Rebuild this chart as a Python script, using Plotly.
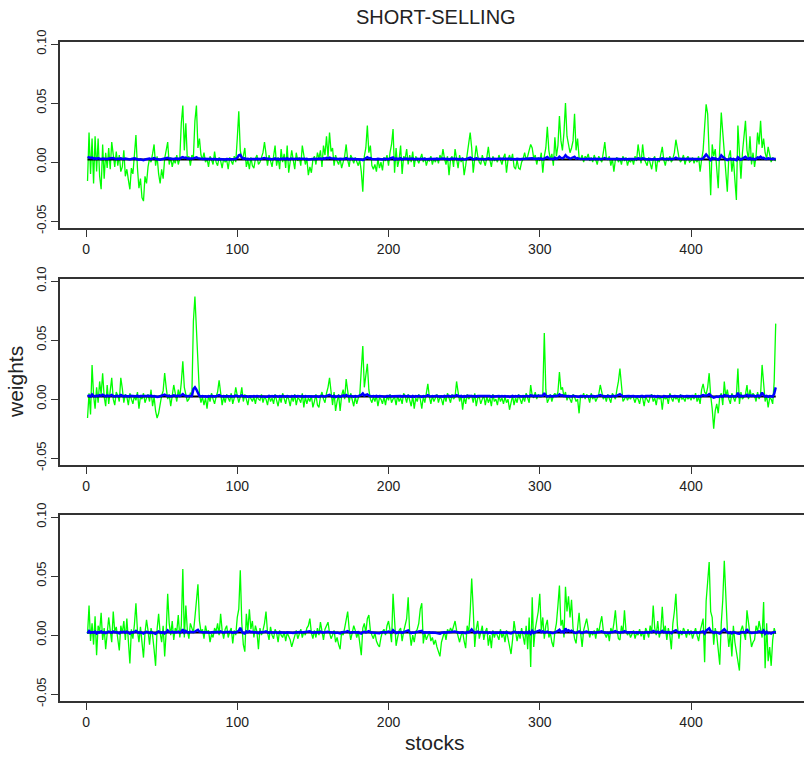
import plotly.graph_objects as go

# ---------------------------------------------------------------
# Portfolio weights per stock (three estimation settings), in
# thousandths (x 0.001).  Green = individual estimate, blue = shrunk
# estimate, black = equal-weight reference.
# ---------------------------------------------------------------
TITLE = "SHORT-SELLING"
X_LABEL = "stocks"
Y_LABEL = "weights"
X_TICKS = [0, 100, 200, 300, 400]
Y_TICKS = [-0.05, 0.0, 0.05, 0.10]
Y_TICK_TEXT = ["-0.05", "0.00", "0.05", "0.10"]
EQUAL_WEIGHT = 0.0022

green_1 = [
    -16, 25, -10, 20, -18, 22, -8, 20, -12, -23,
    15, -14, 8, -5, 12, -6, 17, 4, -4, 9,
    -3, 6, -8, -4, 10, -12, -6, -15, -23, -5,
    -10, 6, 23, -5, -22, -14, -30, -33, -12, -18,
    -4, 3, 0, 7, 15, -3, 5, -10, -18, -6,
    -14, 3, 9, 17, -2, 4, -4, 2, -1, 6,
    -2, 3, 33, 48, 10, 33, 2, 5, -3, 6,
    4, 35, 48, 12, 20, 6, 2, 8, 0, 3,
    -4, 5, 2, -2, 9, 0, -3, 4, 1, -5,
    3, 0, 2, -6, 4, 1, -2, 5, 0, 20,
    43, 10, 3, 5, 12, -4, 2, -6, 4, -3,
    -5, 3, 6, -2, 0, 4, 8, 17, 5, -3,
    6, 2, -4, 5, 14, -3, 4, -6, 11, 0,
    7, -5, 14, -9, 3, 10, 2, -6, 8, 1,
    4, -3, 14, 5, -2, 3, -11, -4, -9, 2,
    5, -2, 8, 3, 10, -4, 14, 6, 22, 4,
    25, 9, 12, -3, 6, 1, -2, 3, -5, 0,
    5, 15, 2, -4, 6, 3, -1, 4, 0, -3,
    2, -8, -25, 5, 12, 31, 8, 14, -3, -6,
    -2, -8, 3, -5, 0, -7, 4, 1, 6, -3,
    8, 15, 28, -9, 12, -4, 2, 14, -10, 5,
    3, 11, -2, 6, 0, 9, -4, 5, 2, -1,
    3, 7, 0, 4, -3, 2, 1, 5, -2, 3,
    0, 4, -1, 6, 2, 11, 3, -2, 5, -11,
    2, 5, -4, 11, 3, -5, 6, 0, 4, -11,
    -3, 8, 14, 25, 12, -9, 3, 14, 5, 0,
    -2, 6, 1, -3, 4, 13, 2, -4, 5, 1,
    3, 0, 6, 2, -2, 4, 7, -9, 2, 6,
    1, 7, -4, -6, 2, -5, -6, 0, 3, 8,
    2, 5, 10, 15, 12, 3, 6, -2, 4, 1,
    8, -9, 5, 12, 30, 10, 2, 7, -3, 21,
    5, 14, 39, 18, 10, 25, 50, 22, 15, 8,
    12, 18, 41, 10, 20, 4, 2, 6, 0, 5,
    3, 7, 1, 4, 0, 6, 2, -2, 5, 3,
    0, 8, 17, 4, 2, 5, -3, 3, -8, 2,
    4, 0, 3, -2, 5, 1, 4, -3, 2, 0,
    3, -2, 5, 1, 15, 6, -1, 15, 3, 0,
    -3, 4, 0, -6, 2, 5, -8, 3, 0, 6,
    13, 2, -3, 4, 1, 5, 0, 3, 8, 19,
    10, 4, 0, 2, 6, -2, 3, 5, 0, 1,
    4, -1, 3, 0, 5, -8, 2, 10, 30, 49,
    41, 10, -28, 15, 5, 11, -5, -22, 12, 42,
    25, 8, -3, -25, 5, 10, -8, 3, -15, -32,
    31, 5, -14, 8, 20, 35, 10, 2, 22, -2,
    8, -4, 5, 25, 15, 35, 12, 20, 8, 3,
    13, 6, 0, 4, 2, 1,
]

blue_1 = [
    4.5, 4.0, 3.5, 3.8, 3.0, 3.2, 2.8, 3.4, 3.0, 2.6,
    3.1, 2.9, 3.3, 2.7, 3.0, 3.2, 2.8, 3.5, 3.0, 2.6,
    3.0, 2.7, 3.2, 2.9, 2.5, 3.1, 2.8, 2.4, 2.2, 2.7,
    3.0, 3.3, 2.9, 2.3, 2.0, 2.4, 1.8, 1.6, 2.2, 2.5,
    2.8, 3.0, 2.6, 3.1, 3.4, 2.9, 2.6, 2.2, 2.0, 2.5,
    2.8, 3.0, 3.3, 3.6, 3.0, 2.7, 2.9, 2.6, 3.0, 2.8,
    2.6, 2.9, 3.8, 4.2, 3.5, 3.9, 3.0, 2.8, 2.6, 3.0,
    3.2, 3.8, 4.0, 3.4, 3.1, 2.8, 2.6, 2.9, 2.7, 2.5,
    2.7, 2.9, 2.6, 2.4, 2.8, 2.5, 2.3, 2.6, 2.4, 2.2,
    2.5, 2.3, 2.6, 2.2, 2.4, 2.5, 2.3, 2.6, 2.8, 3.6,
    5.8, 6.2, 3.8, 3.0, 3.3, 2.6, 2.8, 2.4, 2.7, 2.5,
    2.3, 2.6, 2.9, 2.5, 2.7, 2.9, 3.1, 3.5, 3.0, 2.7,
    2.9, 2.7, 2.4, 2.8, 3.2, 2.6, 2.9, 2.4, 3.0, 2.7,
    3.1, 2.6, 3.3, 2.4, 2.8, 3.0, 2.7, 2.5, 2.9, 2.8,
    2.9, 2.6, 3.2, 2.9, 2.6, 2.8, 2.2, 2.5, 2.3, 2.7,
    2.9, 2.6, 2.9, 2.8, 3.1, 2.6, 3.2, 3.0, 3.6, 3.1,
    3.8, 3.3, 3.1, 2.7, 2.9, 2.8, 2.6, 2.8, 2.5, 2.7,
    2.9, 3.4, 2.8, 2.5, 2.9, 2.8, 2.6, 2.8, 2.7, 2.5,
    2.7, 2.3, 1.8, 2.8, 3.2, 4.2, 3.3, 3.4, 2.6, 2.4,
    2.6, 2.4, 2.8, 2.5, 2.7, 2.3, 2.8, 2.7, 2.9, 2.6,
    3.1, 3.4, 4.0, 2.3, 3.2, 2.5, 2.8, 3.3, 2.2, 2.9,
    2.8, 3.1, 2.6, 2.9, 2.7, 3.0, 2.5, 2.9, 2.8, 2.6,
    2.8, 3.0, 2.7, 2.9, 2.5, 2.8, 2.7, 2.9, 2.6, 2.8,
    2.7, 2.9, 2.6, 3.0, 2.8, 3.1, 2.8, 2.6, 2.9, 2.2,
    2.8, 2.9, 2.5, 3.1, 2.8, 2.4, 2.8, 2.7, 2.8, 2.2,
    2.5, 2.9, 3.3, 3.9, 3.2, 2.3, 2.8, 3.2, 2.9, 2.7,
    2.6, 2.9, 2.7, 2.5, 2.8, 3.2, 2.8, 2.5, 2.9, 2.7,
    2.8, 2.6, 2.9, 2.8, 2.6, 2.8, 3.0, 2.3, 2.8, 2.9,
    2.7, 3.0, 2.5, 2.4, 2.8, 2.5, 2.4, 2.7, 2.8, 3.0,
    2.8, 2.9, 3.1, 3.4, 3.3, 2.9, 3.0, 2.6, 2.9, 2.8,
    3.1, 2.3, 2.9, 3.3, 4.3, 3.2, 2.8, 3.0, 2.6, 3.8,
    2.9, 3.4, 4.6, 3.6, 3.2, 4.0, 5.8, 4.4, 3.8, 3.2,
    3.4, 3.8, 4.6, 3.0, 3.5, 2.8, 2.7, 2.9, 2.6, 2.8,
    2.7, 2.9, 2.6, 2.8, 2.6, 2.9, 2.7, 2.5, 2.8, 2.7,
    2.6, 2.9, 3.4, 2.8, 2.7, 2.8, 2.4, 2.7, 2.3, 2.6,
    2.8, 2.6, 2.7, 2.5, 2.8, 2.6, 2.8, 2.5, 2.7, 2.6,
    2.7, 2.5, 2.8, 2.6, 3.3, 2.9, 2.6, 3.2, 2.7, 2.6,
    2.4, 2.7, 2.6, 2.3, 2.7, 2.8, 2.2, 2.7, 2.6, 2.9,
    3.3, 2.7, 2.5, 2.8, 2.6, 2.8, 2.6, 2.7, 3.0, 3.8,
    3.1, 2.8, 2.6, 2.7, 2.9, 2.5, 2.7, 2.8, 2.6, 2.7,
    2.8, 2.6, 2.7, 2.6, 2.8, 2.3, 2.7, 3.2, 4.5, 6.5,
    5.0, 3.2, 1.8, 3.6, 2.9, 3.3, 2.4, 2.0, 3.3, 5.8,
    4.5, 3.1, 2.5, 1.8, 2.9, 3.2, 2.3, 2.7, 2.1, 1.7,
    4.2, 2.9, 2.1, 3.0, 3.6, 4.5, 3.2, 2.7, 3.7, 2.5,
    3.0, 2.4, 2.8, 4.0, 3.5, 4.6, 3.3, 3.7, 2.9, 2.7,
    3.3, 2.9, 2.6, 2.8, 2.7, 2.6,
]

green_2 = [
    -16, 5, -13, 29, 3, -8, 10, -3, 15, 4,
    22, 2, -6, 12, -4, 8, 18, 0, -5, 6,
    3, -2, 18, 9, -3, 4, 2, -5, 5, 0,
    -4, 3, -1, 6, -8, 2, 0, 5, -3, 1,
    4, -2, 8, -6, 2, -10, -16, -12, -4, 3,
    7, 22, 10, 0, 4, -6, 3, 12, 5, -2,
    8, 2, 14, 32, 10, 3, -2, 0, 5, 4,
    66, 87, 60, 35, 4, -3, 2, -5, 1, -8,
    3, -2, 5, 0, -4, 2, 6, 16, 3, -5,
    2, -3, 4, 0, -2, 5, -4, 1, 10, 3,
    -3, 2, 10, -2, 4, 0, -5, 3, 1, -2,
    2, -4, 3, 0, -1, 4, -3, 2, 0, -5,
    3, -2, 1, -4, 4, 0, -6, 2, -3, 5,
    -1, -4, 3, 0, -6, 2, -2, 4, -5, 1,
    0, -3, 5, -7, 2, -4, 1, -2, 3, -7,
    -2, 4, -5, -7, 2, 6, 0, -3, 5, 10,
    18, 3, -5, 6, -10, -2, 4, -10, 3, 8,
    0, 17, 4, -3, 5, 0, -6, 2, -4, 1,
    4, 25, 45, 10, 20, 30, 8, 0, -3, 2,
    -2, 3, -6, 1, 0, -4, 2, -5, 3, -1,
    4, -3, 0, 2, -5, 3, -2, 1, -4, 5,
    2, -3, 4, 0, -6, 3, -8, 1, -2, 4,
    0, -8, 2, -3, 5, 13, 2, -4, 3, -2,
    1, 4, -3, 2, 0, -5, 3, -2, 5, 1,
    -3, 4, 0, 2, 15, 6, -2, 3, -9, 2,
    -4, 4, 0, 2, 3, -3, 5, -6, 1, 2,
    -4, 0, 3, -5, 2, -3, 1, -6, 4, -2,
    0, -5, 3, -2, 1, -4, 2, -3, 0, -9,
    -2, 3, -5, 1, -3, 4, 0, -4, 2, -2,
    5, 0, -3, 12, 3, 1, 6, 0, 4, 2,
    2, 4, 56, 8, -3, 0, 4, -2, 3, 5,
    2, 6, 23, 8, 10, 2, 6, -1, 3, 0,
    -3, 4, 2, -2, 0, -12, 3, 1, 5, 0,
    4, 2, -3, 5, 0, 3, -2, 1, 4, 12,
    6, 0, 3, -2, 4, 1, -3, 5, 2, 0,
    8, 15, 26, 10, -2, 0, 3, -1, 2, 0,
    3, 1, -3, 2, 0, -4, 3, 1, -6, 2,
    0, -3, 2, 4, -2, 1, -5, 3, 0, 2,
    -9, 3, 0, 2, -4, 5, 1, -2, 3, 0,
    2, -3, 4, 0, 1, -2, 3, 0, 2, -1,
    3, 0, 5, -2, 2, -4, 8, 13, 6, 4,
    10, 22, 3, -8, -25, -10, -4, -12, 2, 5,
    -5, 15, 2, 8, 0, -4, 5, 1, -2, 3,
    26, -4, 6, 0, 2, 4, 12, 0, 8, 2,
    5, 3, -2, 6, 0, 4, 29, 10, -2, 3,
    -7, 1, 0, -4, 15, 64,
]

blue_2 = [
    2.5, 3.0, 2.2, 4.0, 2.8, 2.4, 3.0, 2.6, 3.4, 2.8,
    3.8, 2.7, 2.4, 3.2, 2.5, 3.0, 3.6, 2.6, 2.3, 2.9,
    2.7, 2.5, 3.5, 3.0, 2.4, 2.8, 2.6, 2.3, 2.8, 2.6,
    2.4, 2.7, 2.5, 2.9, 2.2, 2.6, 2.5, 2.8, 2.4, 2.6,
    2.8, 2.5, 3.0, 2.3, 2.6, 2.1, 1.8, 2.0, 2.4, 2.7,
    2.9, 3.8, 3.1, 2.6, 2.8, 2.3, 2.7, 3.2, 2.9, 2.5,
    3.0, 2.6, 3.3, 4.2, 3.1, 2.7, 2.4, 2.6, 2.8, 2.7,
    8.5, 10.0, 8.0, 4.8, 2.7, 2.3, 2.6, 2.2, 2.5, 2.0,
    2.6, 2.3, 2.8, 2.5, 2.2, 2.6, 2.9, 3.4, 2.7, 2.2,
    2.6, 2.3, 2.7, 2.5, 2.3, 2.8, 2.2, 2.5, 3.1, 2.7,
    2.2, 2.6, 3.1, 2.4, 2.7, 2.5, 2.1, 2.6, 2.5, 2.3,
    2.6, 2.2, 2.7, 2.5, 2.4, 2.7, 2.2, 2.6, 2.5, 2.1,
    2.7, 2.3, 2.6, 2.1, 2.8, 2.5, 2.0, 2.6, 2.2, 2.8,
    2.4, 2.1, 2.7, 2.5, 2.0, 2.6, 2.3, 2.8, 2.1, 2.6,
    2.5, 2.2, 2.8, 1.9, 2.6, 2.2, 2.5, 2.3, 2.7, 1.9,
    2.3, 2.7, 2.1, 1.9, 2.6, 2.9, 2.5, 2.2, 2.8, 3.2,
    3.6, 2.7, 2.2, 2.9, 1.8, 2.4, 2.8, 1.9, 2.7, 3.1,
    2.5, 3.5, 2.8, 2.3, 2.9, 2.5, 2.1, 2.6, 2.2, 2.6,
    2.8, 3.6, 4.8, 3.0, 3.6, 4.0, 2.9, 2.5, 2.3, 2.6,
    2.3, 2.7, 2.1, 2.6, 2.5, 2.2, 2.6, 2.1, 2.7, 2.4,
    2.8, 2.2, 2.5, 2.6, 2.1, 2.7, 2.3, 2.6, 2.2, 2.8,
    2.6, 2.3, 2.8, 2.5, 2.0, 2.7, 1.9, 2.6, 2.3, 2.8,
    2.5, 1.9, 2.6, 2.3, 2.8, 3.4, 2.6, 2.2, 2.7, 2.3,
    2.6, 2.8, 2.2, 2.6, 2.5, 2.1, 2.7, 2.3, 2.8, 2.6,
    2.2, 2.8, 2.5, 2.6, 3.4, 2.9, 2.3, 2.7, 1.9, 2.6,
    2.2, 2.8, 2.5, 2.6, 2.7, 2.3, 2.8, 2.1, 2.6, 2.6,
    2.2, 2.5, 2.7, 2.1, 2.6, 2.3, 2.6, 2.0, 2.8, 2.3,
    2.5, 2.1, 2.7, 2.3, 2.6, 2.2, 2.6, 2.3, 2.5, 1.9,
    2.3, 2.7, 2.1, 2.6, 2.3, 2.8, 2.5, 2.2, 2.6, 2.3,
    2.8, 2.5, 2.3, 3.3, 2.7, 2.6, 3.0, 2.5, 2.8, 2.7,
    2.6, 2.8, 5.2, 3.0, 2.3, 2.5, 2.8, 2.3, 2.7, 2.9,
    2.6, 2.9, 4.0, 3.0, 3.2, 2.6, 2.9, 2.4, 2.7, 2.5,
    2.3, 2.8, 2.6, 2.3, 2.5, 1.9, 2.7, 2.6, 2.9, 2.5,
    2.8, 2.6, 2.3, 2.9, 2.5, 2.7, 2.3, 2.6, 2.8, 3.4,
    2.9, 2.5, 2.7, 2.3, 2.8, 2.6, 2.2, 2.9, 2.6, 2.5,
    3.0, 3.4, 4.2, 3.2, 2.3, 2.5, 2.7, 2.4, 2.6, 2.5,
    2.7, 2.6, 2.2, 2.6, 2.5, 2.1, 2.7, 2.6, 2.0, 2.6,
    2.5, 2.2, 2.6, 2.8, 2.3, 2.6, 2.0, 2.7, 2.5, 2.6,
    1.8, 2.7, 2.5, 2.6, 2.1, 2.9, 2.6, 2.3, 2.7, 2.5,
    2.6, 2.2, 2.8, 2.5, 2.6, 2.3, 2.7, 2.5, 2.6, 2.4,
    2.7, 2.5, 2.9, 2.3, 2.6, 2.2, 3.0, 3.4, 2.9, 2.8,
    3.3, 4.2, 2.7, 2.0, 1.2, 1.9, 2.2, 1.8, 2.6, 2.8,
    2.1, 3.4, 2.7, 3.1, 2.5, 2.2, 2.9, 2.6, 2.3, 2.7,
    5.5, 2.2, 3.0, 2.5, 2.6, 2.8, 3.6, 2.5, 3.2, 2.7,
    3.0, 2.8, 2.3, 3.1, 2.5, 3.0, 5.5, 3.4, 2.3, 2.8,
    2.0, 2.6, 2.5, 2.2, 4.5, 10.0,
]

green_3 = [
    1, 25, -5, 10, -8, 16, -17, 8, 3, 19,
    -4, 6, -12, 2, 15, 4, -6, 20, 3, 7,
    -5, -13, 8, 2, 12, -4, 14, -8, -24, 5,
    -3, 9, 27, 4, -6, 7, -10, -19, 2, 13,
    4, -8, 6, 0, -12, -26, 5, 18, 2, -6,
    8, -18, 3, 35, 10, 0, 12, -4, 6, 3,
    17, -2, 8, 56, -2, 25, 4, -3, 10, 6,
    2, 15, 30, 43, 12, 3, 5, -3, 8, 2,
    4, -6, 1, -2, 6, 3, 10, 0, 18, 4,
    -3, 5, 8, -2, 3, 6, -7, 4, 0, 15,
    22, 55, 10, -8, -14, 18, 3, 22, 5, 12,
    -2, 8, 3, -12, 6, 0, 4, 10, 20, 2,
    -4, 7, 0, -3, 5, 2, -6, 4, 0, -2,
    3, -5, 2, -1, -4, -10, -6, 0, 4, -3,
    2, 5, -2, 3, 0, 6, 8, 14, 2, -3,
    4, -2, 6, 0, 11, 3, -4, 5, 8, 11,
    2, -3, 0, 4, -6, -2, -8, -12, 3, 0,
    6, 12, 20, 5, -4, 2, 8, 4, -2, 3,
    -8, -17, 6, 10, 2, 14, 17, 4, 0, -3,
    2, -5, -8, -10, -2, 3, 5, 0, 8, 12,
    4, -6, 35, 10, -9, -2, 4, 6, -5, 3,
    8, 14, 32, 2, -9, 0, -6, 3, 5, 10,
    22, 27, -7, 2, -4, 0, 3, -5, -2, -8,
    -4, -10, -14, -18, -6, 0, 3, -4, 5, 2,
    6, 3, 8, 12, 4, -2, -6, 0, 3, -5,
    -11, 8, 2, 20, 48, 22, -10, 5, 12, -3,
    2, 8, -4, 3, 6, -9, 0, -11, 4, -2,
    3, 0, -4, 5, -2, 2, -6, 4, -3, -8,
    -16, -4, 12, 3, -5, 2, -3, 6, 0, -8,
    8, -12, 15, -27, 32, -10, 5, 12, 20, 35,
    4, 15, -3, 8, 13, -2, 2, -6, -10, 3,
    10, 25, 42, 8, 13, -2, 41, 20, 33, 15,
    30, 6, -3, -7, 5, 19, 2, -10, 4, 8,
    14, 6, -2, 3, 0, 4, -3, 6, 2, 10,
    16, 4, 0, -2, 3, -5, 6, 2, 10, 21,
    5, -3, -4, 8, 2, 21, 4, 0, 3, -2,
    1, 4, -3, 2, 0, 5, -1, 3, -4, 6,
    3, -2, 8, 2, 25, 6, 0, 12, -2, 4,
    24, 2, 8, -4, 6, 0, -12, 10, 20, 35,
    8, -3, 4, 0, 6, 3, -2, 5, 0, 4,
    -3, 2, 6, 0, -5, 3, 8, 14, -23, 29,
    45, 62, 20, 15, -8, 6, 0, -12, -25, 10,
    30, 63, 29, 5, -10, 3, -18, 8, -6, -15,
    -22, -30, 4, 8, 2, -4, 21, 12, 0, -10,
    -6, -4, 8, 3, 12, 5, -2, 28, -28, 10,
    -22, -10, -26, -4, 6, 1,
]

blue_3 = [
    1.5, 3.5, 2.0, 2.6, 2.2, 3.0, 1.4, 2.5, 2.3, 3.2,
    2.0, 2.6, 1.7, 2.4, 3.0, 2.5, 2.0, 3.1, 2.4, 2.6,
    2.0, 1.6, 2.7, 2.4, 2.9, 2.1, 3.0, 1.8, 1.2, 2.5,
    2.2, 2.7, 3.6, 2.5, 2.0, 2.6, 1.7, 1.4, 2.4, 2.9,
    2.5, 1.8, 2.6, 2.3, 1.7, 1.1, 2.5, 3.1, 2.4, 2.0,
    2.7, 1.5, 2.4, 4.0, 2.8, 2.3, 2.9, 2.1, 2.6, 2.4,
    3.0, 2.1, 2.7, 5.0, 2.2, 3.6, 2.5, 2.1, 2.8, 2.6,
    2.4, 3.0, 3.8, 4.5, 2.9, 2.5, 2.6, 2.2, 2.7, 2.4,
    2.5, 2.1, 2.4, 2.2, 2.6, 2.5, 2.8, 2.3, 3.1, 2.5,
    2.1, 2.6, 2.7, 2.2, 2.5, 2.6, 2.0, 2.5, 2.3, 3.0,
    3.6, 6.2, 3.0, 1.8, 1.4, 3.2, 2.5, 3.3, 2.6, 2.9,
    2.2, 2.7, 2.4, 1.8, 2.6, 2.3, 2.5, 2.8, 3.2, 2.4,
    2.0, 2.7, 2.3, 2.1, 2.6, 2.4, 1.9, 2.5, 2.3, 2.1,
    2.5, 2.0, 2.4, 2.2, 1.9, 1.5, 1.8, 2.3, 2.5, 2.1,
    2.4, 2.6, 2.2, 2.5, 2.3, 2.6, 2.8, 3.2, 2.4, 2.1,
    2.5, 2.2, 2.6, 2.3, 2.9, 2.5, 2.0, 2.5, 2.7, 2.9,
    2.4, 2.1, 2.3, 2.5, 1.9, 2.2, 1.8, 1.5, 2.5, 2.3,
    2.6, 3.0, 3.4, 2.6, 2.0, 2.4, 2.7, 2.5, 2.2, 2.5,
    1.8, 1.4, 2.6, 2.9, 2.4, 3.0, 3.3, 2.5, 2.3, 2.1,
    2.4, 2.0, 1.8, 1.7, 2.2, 2.5, 2.6, 2.3, 2.7, 3.0,
    2.5, 2.0, 4.2, 2.8, 1.8, 2.2, 2.5, 2.6, 2.0, 2.4,
    2.7, 3.0, 4.0, 2.4, 1.8, 2.3, 2.0, 2.5, 2.6, 2.8,
    3.4, 3.6, 1.9, 2.4, 2.1, 2.3, 2.5, 2.0, 2.2, 1.8,
    2.0, 1.7, 1.5, 1.3, 2.0, 2.3, 2.5, 2.1, 2.6, 2.4,
    2.7, 2.5, 2.8, 3.0, 2.6, 2.2, 2.0, 2.3, 2.5, 2.0,
    1.7, 2.7, 2.4, 3.2, 4.8, 3.3, 1.8, 2.5, 2.9, 2.1,
    2.4, 2.8, 2.0, 2.5, 2.6, 1.8, 2.3, 1.7, 2.5, 2.1,
    2.5, 2.3, 2.0, 2.6, 2.1, 2.4, 1.9, 2.5, 2.1, 1.8,
    1.5, 2.1, 3.0, 2.5, 2.0, 2.4, 2.1, 2.6, 2.3, 1.8,
    2.7, 1.7, 3.0, 1.2, 3.6, 1.8, 2.5, 3.0, 3.4, 4.0,
    2.5, 3.2, 2.1, 2.7, 3.0, 2.2, 2.4, 1.9, 1.8, 2.4,
    2.9, 3.6, 4.6, 2.7, 3.1, 2.2, 5.7, 3.4, 4.2, 3.1,
    3.8, 2.6, 2.0, 1.8, 2.5, 3.2, 2.4, 1.8, 2.5, 2.7,
    3.1, 2.6, 2.2, 2.5, 2.3, 2.5, 2.1, 2.6, 2.4, 2.9,
    3.2, 2.5, 2.3, 2.1, 2.4, 1.9, 2.6, 2.4, 2.9, 3.4,
    2.6, 2.1, 2.0, 2.7, 2.4, 3.3, 2.5, 2.3, 2.5, 2.2,
    2.4, 2.5, 2.1, 2.4, 2.3, 2.6, 2.2, 2.5, 2.1, 2.6,
    2.5, 2.2, 2.8, 2.4, 3.6, 2.6, 2.3, 3.0, 2.2, 2.5,
    3.6, 2.4, 2.8, 2.1, 2.6, 2.3, 1.7, 2.9, 3.4, 4.2,
    2.8, 2.1, 2.5, 2.3, 2.6, 2.5, 2.2, 2.6, 2.3, 2.5,
    2.1, 2.4, 2.6, 2.3, 2.0, 2.5, 2.8, 3.2, 1.4, 3.8,
    4.8, 5.7, 3.4, 3.0, 1.9, 2.6, 2.3, 1.8, 1.3, 2.8,
    3.8, 5.0, 3.6, 2.5, 1.8, 2.4, 1.5, 2.7, 2.0, 1.6,
    1.3, 1.2, 2.5, 2.7, 2.4, 2.1, 5.0, 3.0, 2.3, 1.8,
    2.0, 2.1, 2.8, 2.5, 3.2, 2.6, 2.2, 3.9, 1.2, 2.8,
    1.5, 2.0, 1.3, 2.2, 2.7, 2.4,
]

panels = [(green_1, blue_1), (green_2, blue_2), (green_3, blue_3)]

# ---------------------------------------------------------------
# Layout geometry (pixels) for the three stacked panels
# ---------------------------------------------------------------
W, H = 804, 757
LEFT = 60
panel_px = [(42, 228), (279, 465), (515, 701)]   # (top, bottom)
X_RANGE = [-17.2, 474.7]
Y_RANGE = [-0.0558, 0.1018]

FONT = "Liberation Sans, Arial, sans-serif"
INK = "#222222"
FRAME = "#333333"

fig = go.Figure()

for i, (green, blue) in enumerate(panels):
    k = "" if i == 0 else str(i + 1)
    xa, ya = "x" + k, "y" + k
    xg = list(range(1, len(green) + 1))
    xb = list(range(1, len(blue) + 1))
    fig.add_trace(go.Scatter(
        x=xg, y=[v / 1000 for v in green], mode="lines",
        line=dict(color="#00ff00", width=1.3), xaxis=xa, yaxis=ya,
        showlegend=False, hoverinfo="skip"))
    fig.add_trace(go.Scatter(
        x=[1, len(green)], y=[EQUAL_WEIGHT, EQUAL_WEIGHT], mode="lines",
        line=dict(color="#000000", width=2), xaxis=xa, yaxis=ya,
        showlegend=False, hoverinfo="skip"))
    fig.add_trace(go.Scatter(
        x=xb, y=[v / 1000 for v in blue], mode="lines",
        line=dict(color="#0000ff", width=2.5), xaxis=xa, yaxis=ya,
        showlegend=False, hoverinfo="skip"))

    top, bottom = panel_px[i]
    dom = [1 - bottom / H, 1 - top / H]
    fig.layout["xaxis" + k] = dict(
        domain=[0, 1], range=X_RANGE, anchor=ya,
        tickmode="array", tickvals=X_TICKS,
        ticks="outside", ticklen=7, tickwidth=1.2, tickcolor=FRAME,
        showline=True, linecolor=FRAME, linewidth=1.5, mirror=True,
        showgrid=False, zeroline=False, automargin=False,
        tickfont=dict(family=FONT, size=14, color=INK))
    fig.layout["yaxis" + k] = dict(
        domain=dom, range=Y_RANGE, anchor=xa,
        tickmode="array", tickvals=Y_TICKS, ticktext=Y_TICK_TEXT,
        tickangle=-90,
        ticks="outside", ticklen=7, tickwidth=1.2, tickcolor=FRAME,
        showline=True, linecolor=FRAME, linewidth=1.5,
        showgrid=False, zeroline=False, automargin=False,
        tickfont=dict(family=FONT, size=13, color=INK))

plot_w = W - LEFT


def px_x(p):
    return (p - LEFT) / plot_w


def px_y(p):
    return 1 - p / H


fig.update_layout(
    width=W, height=H,
    margin=dict(l=LEFT, r=0, t=0, b=0),
    paper_bgcolor="white", plot_bgcolor="white",
    annotations=[
        dict(text=TITLE, x=px_x(436), y=px_y(17), xref="paper", yref="paper",
             showarrow=False, xanchor="center", yanchor="middle",
             font=dict(family=FONT, size=20, color=INK)),
        dict(text=Y_LABEL, x=px_x(15), y=px_y(382), xref="paper", yref="paper",
             showarrow=False, xanchor="center", yanchor="middle", textangle=-90,
             font=dict(family=FONT, size=21, color=INK)),
        dict(text=X_LABEL, x=px_x(435), y=px_y(742), xref="paper", yref="paper",
             showarrow=False, xanchor="center", yanchor="middle",
             font=dict(family=FONT, size=21, color=INK)),
    ],
)

fig.write_html("out.html")
